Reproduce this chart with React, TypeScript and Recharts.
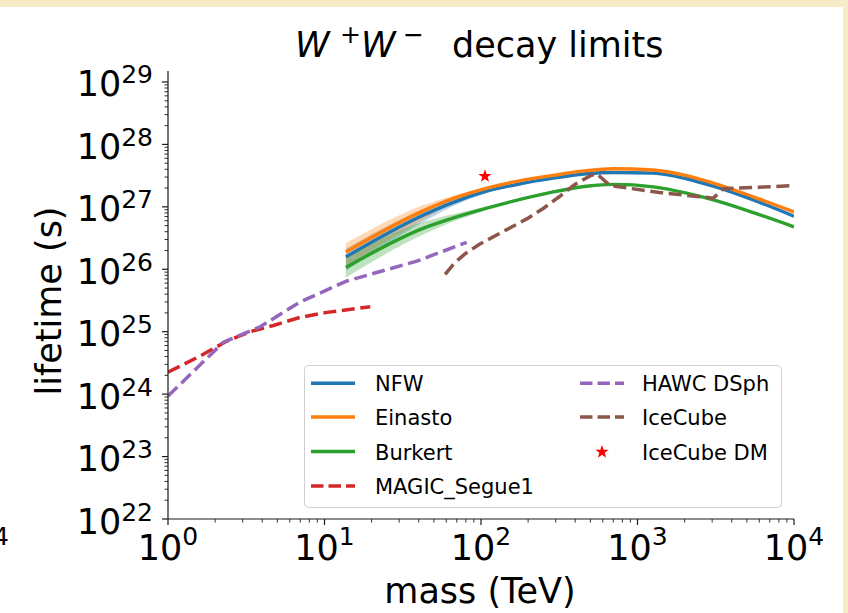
import { Area, ComposedChart, Line, Scatter, XAxis, YAxis } from 'recharts'

// halo profile limits (mass in TeV, lifetime in s)
const PROFILE_MASS = [13.7, 43, 66, 109, 178, 290, 474, 700, 1260, 2060, 3050, 5490, 10000]
const NFW_LIFETIME = [1.58e26, 7.41e26, 1.17e27, 1.78e27, 2.34e27, 2.88e27, 3.39e27, 3.55e27, 3.47e27, 2.82e27, 2.14e27, 1.29e27, 7.08e26]
const EINASTO_LIFETIME = [1.9e26, 8.7e26, 1.35e27, 2.0e27, 2.63e27, 3.2e27, 3.8e27, 4.07e27, 3.89e27, 3.16e27, 2.4e27, 1.45e27, 8.3e26]
const BURKERT_LIFETIME = [1.07e26, 4.57e26, 6.6e26, 9.55e26, 1.32e27, 1.74e27, 2.14e27, 2.29e27, 2.09e27, 1.66e27, 1.29e27, 8.1e26, 4.79e26]

// uncertainty bands at low mass
const BAND_MASS = [13.7, 43, 66, 109]
const NFW_LOW = [9.5e25, 5.75e26, 1.02e27, 1.7e27]
const NFW_HIGH = [2.14e26, 9.1e26, 1.32e27, 1.86e27]
const EINASTO_LOW = [1.12e26, 6.3e26, 1.15e27, 1.9e27]
const EINASTO_HIGH = [2.63e26, 1.07e27, 1.51e27, 2.09e27]
const BURKERT_LOW = [7.4e25, 3.63e26, 5.75e26, 8.9e26]
const BURKERT_HIGH = [1.58e26, 5.75e26, 7.6e26, 1.02e27]

const MAGIC_MASS = [1, 1.6, 2.38, 3.36, 4.72, 7.0, 10.4, 19.6]
const MAGIC_LIFETIME = [2.24e24, 4.07e24, 7.08e24, 1.0e25, 1.26e25, 1.7e25, 2.04e25, 2.51e25]

const HAWC_MASS = [1, 2.26, 3.88, 7.0, 13.9, 38.9, 81]
const HAWC_LIFETIME = [9.3e23, 6.8e24, 1.2e25, 3.0e25, 6.5e25, 1.35e26, 2.7e26]

const ICECUBE_MASS = [59, 67.6, 79.4, 97.7, 126, 158, 200, 251, 316, 398, 501, 550, 667, 1380, 3050, 3530, 10000]
const ICECUBE_LIFETIME = [8.3e25, 1.26e26, 1.78e26, 2.51e26, 3.55e26, 4.79e26, 6.6e26, 9.5e26, 1.45e27, 2.29e27, 3.16e27, 3.39e27, 2.19e27, 1.7e27, 1.38e27, 1.95e27, 2.19e27]

const DM_MASS = [106]
const DM_LIFETIME = [3.1e27]

const X_MAJOR = [1, 10, 100, 1000, 10000]
const Y_MAJOR = [1e22, 1e23, 1e24, 1e25, 1e26, 1e27, 1e28, 1e29]

const BLUE = '#1f77b4'
const ORANGE = '#ff7f0e'
const GREEN = '#2ca02c'
const RED = '#d62728'
const PURPLE = '#9467bd'
const BROWN = '#8c564b'
const AXIS = '#1a1a1a'
const FONT = '"DejaVu Sans", sans-serif'
const DASH = '13 5.6'

const pts = (ms: number[], ts: number[]) => ms.map((m, i) => ({ m, t: ts[i] }))
const band = (ms: number[], lo: number[], hi: number[]) => ms.map((m, i) => ({ m, t: [lo[i], hi[i]] }))

const withMinor = (majors: number[]) => {
  const out: number[] = []
  majors.forEach((d, i) => {
    out.push(d)
    if (i < majors.length - 1) for (let k = 2; k <= 9; k++) out.push(k * d)
  })
  return out
}

const X_TICKS = withMinor(X_MAJOR)
const Y_TICKS = withMinor(Y_MAJOR)

const exp10 = (v: number) => Math.round(Math.log10(v))

const XTick = ({ x, y, payload }: any) => {
  const major = X_MAJOR.includes(payload.value)
  return (
    <g>
      <line x1={x} x2={x} y1={y} y2={y + (major ? 6 : 3.5)} stroke={AXIS} strokeWidth={major ? 1.2 : 0.9} />
      {major && (
        <text x={x} y={y + 41} textAnchor="middle" fontSize={35} fontFamily={FONT} fill="#000">
          10<tspan fontSize={25} dy={-15}>{exp10(payload.value)}</tspan>
        </text>
      )}
    </g>
  )
}

const YTick = ({ x, y, payload }: any) => {
  const major = Y_MAJOR.includes(payload.value)
  return (
    <g>
      <line x1={x - (major ? 6 : 3.5)} x2={x} y1={y} y2={y} stroke={AXIS} strokeWidth={major ? 1.2 : 0.9} />
      {major && (
        <text x={x - 15} y={y + 14.5} textAnchor="end" fontSize={35} fontFamily={FONT} fill="#000">
          10<tspan fontSize={25} dy={-13}>{exp10(payload.value)}</tspan>
        </text>
      )}
    </g>
  )
}

const starPath = (cx: number, cy: number, r: number) => {
  const p: string[] = []
  for (let i = 0; i < 10; i++) {
    const rr = i % 2 === 0 ? r : r * 0.4
    const a = -Math.PI / 2 + (i * Math.PI) / 5
    p.push(`${cx + rr * Math.cos(a)},${cy + rr * Math.sin(a)}`)
  }
  return p.join(' ')
}

const Star = ({ cx, cy }: any) => <polygon points={starPath(cx, cy, 7)} fill="#ff0000" />

function LegendBox() {
  const handle = (x: number, y: number, color: string, dashed: boolean) => (
    <line x1={x} x2={x + 44} y1={y} y2={y} stroke={color} strokeWidth={3.4} strokeDasharray={dashed ? '12.5 5' : undefined} />
  )
  const label = (x: number, y: number, text: string) => (
    <text x={x} y={y} fontSize={21} fontFamily={FONT} fill="#000">{text}</text>
  )
  return (
    <g>
      <rect x={304.5} y={365.5} width={477} height={142} rx={4} fill="#fff" fillOpacity={0.8} stroke="#d0d0d0" strokeWidth={1} />
      {handle(311, 383.3, BLUE, false)}
      {label(375, 391, 'NFW')}
      {handle(311, 417, ORANGE, false)}
      {label(375, 425, 'Einasto')}
      {handle(311, 451.5, GREEN, false)}
      {label(375, 459.5, 'Burkert')}
      {handle(311, 486, RED, true)}
      {label(375, 494, 'MAGIC_Segue1')}
      {handle(580, 383.3, PURPLE, true)}
      {label(642, 391, 'HAWC DSph')}
      {handle(580, 417, BROWN, true)}
      {label(642, 425, 'IceCube')}
      <polygon points={starPath(602, 452, 7)} fill="#ff0000" />
      {label(642, 459.5, 'IceCube DM')}
    </g>
  )
}

export default function App() {
  return (
    <div style={{ position: 'absolute', left: 0, top: 0, width: 848, height: 613, background: '#f7ecc8', overflow: 'hidden' }}>
      <div style={{ position: 'absolute', left: 0, top: 7, width: 843, height: 606, background: '#fff' }} />
      <div style={{ position: 'absolute', left: 0, top: 0 }}>
        <ComposedChart width={848} height={613} margin={{ top: 71, right: 54, bottom: 34, left: 0 }}>
          <XAxis
            dataKey="m"
            type="number"
            scale="log"
            domain={[1, 10000]}
            allowDataOverflow
            ticks={X_TICKS}
            interval={0}
            tick={<XTick />}
            tickLine={false}
            tickSize={0}
            tickMargin={0}
            height={60}
            axisLine={{ stroke: AXIS, strokeWidth: 1.2 }}
          />
          <XAxis xAxisId="top" orientation="top" type="number" scale="log" domain={[1, 10000]} allowDataOverflow tick={false} tickLine={false} height={0} axisLine={{ stroke: AXIS, strokeWidth: 1.2 }} />
          <YAxis
            type="number"
            scale="log"
            domain={[1e22, 1.5e29]}
            allowDataOverflow
            ticks={Y_TICKS}
            interval={0}
            tick={<YTick />}
            tickLine={false}
            tickSize={0}
            tickMargin={0}
            width={168}
            axisLine={{ stroke: AXIS, strokeWidth: 1.2 }}
          />
          <YAxis yAxisId="right" orientation="right" type="number" scale="log" domain={[1e22, 1.5e29]} allowDataOverflow tick={false} tickLine={false} width={0} axisLine={{ stroke: AXIS, strokeWidth: 1.2 }} />

          <Area type="monotone" data={band(BAND_MASS, NFW_LOW, NFW_HIGH)} dataKey="t" stroke="none" fill={BLUE} fillOpacity={0.3} isAnimationActive={false} />
          <Line type="monotone" data={pts(PROFILE_MASS, NFW_LIFETIME)} dataKey="t" stroke={BLUE} strokeWidth={3.4} dot={false} isAnimationActive={false} />
          <Area type="monotone" data={band(BAND_MASS, EINASTO_LOW, EINASTO_HIGH)} dataKey="t" stroke="none" fill={ORANGE} fillOpacity={0.3} isAnimationActive={false} />
          <Line type="monotone" data={pts(PROFILE_MASS, EINASTO_LIFETIME)} dataKey="t" stroke={ORANGE} strokeWidth={3.4} dot={false} isAnimationActive={false} />
          <Area type="monotone" data={band(BAND_MASS, BURKERT_LOW, BURKERT_HIGH)} dataKey="t" stroke="none" fill={GREEN} fillOpacity={0.3} isAnimationActive={false} />
          <Line type="monotone" data={pts(PROFILE_MASS, BURKERT_LIFETIME)} dataKey="t" stroke={GREEN} strokeWidth={3.4} dot={false} isAnimationActive={false} />
          <Line data={pts(MAGIC_MASS, MAGIC_LIFETIME)} dataKey="t" stroke={RED} strokeWidth={3.5} strokeDasharray={DASH} dot={false} isAnimationActive={false} />
          <Line data={pts(HAWC_MASS, HAWC_LIFETIME)} dataKey="t" stroke={PURPLE} strokeWidth={3.5} strokeDasharray={DASH} dot={false} isAnimationActive={false} />
          <Line data={pts(ICECUBE_MASS, ICECUBE_LIFETIME)} dataKey="t" stroke={BROWN} strokeWidth={3.5} strokeDasharray={DASH} dot={false} isAnimationActive={false} />
          <Scatter data={pts(DM_MASS, DM_LIFETIME)} dataKey="t" shape={<Star />} isAnimationActive={false} />
        </ComposedChart>
      </div>
      <svg width={848} height={613} style={{ position: 'absolute', left: 0, top: 0, pointerEvents: 'none' }}>
        <text fontSize={35} fontFamily={FONT} fill="#000" y={57}>
          <tspan x={295} fontStyle="italic">W</tspan>
          <tspan x={340} fontSize={25} dy={-14}>+</tspan>
          <tspan x={361} dy={14} fontStyle="italic">W</tspan>
          <tspan x={403} fontSize={25} dy={-14}>−</tspan>
          <tspan x={452} dy={14}>decay limits</tspan>
        </text>
        <text x={480} y={603} textAnchor="middle" fontSize={35} fontFamily={FONT} fill="#000">mass (TeV)</text>
        <text transform="translate(61,301) rotate(-90)" textAnchor="middle" fontSize={35} fontFamily={FONT} fill="#000">lifetime (s)</text>
        <text x={-7} y={545} fontSize={25} fontFamily={FONT} fill="#000">4</text>
        <LegendBox />
      </svg>
    </div>
  )
}
